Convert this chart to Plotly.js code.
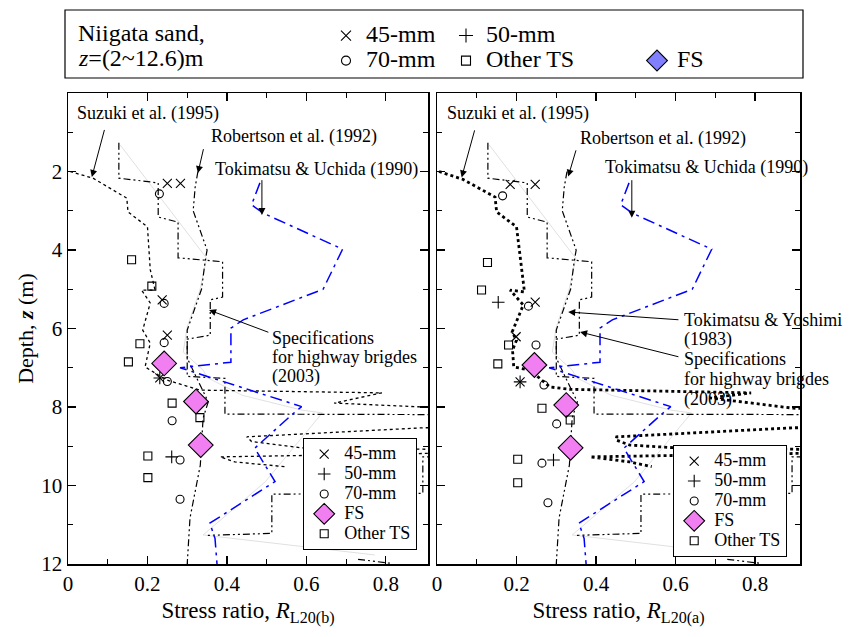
<!DOCTYPE html>
<html><head><meta charset="utf-8">
<script src="https://cdn.plot.ly/plotly-3.0.1.min.js"></script>
<style>html,body{margin:0;padding:0;background:#fff}#chart{width:850px;height:637px}</style>
</head><body><div id="chart"></div>
<script>
// ---------- tick labels ----------
const xTicks = [0, 0.2, 0.4, 0.6, 0.8];
const xTickText = ['0', '0.2', '0.4', '0.6', '0.8'];
const xMinor = [0.1, 0.3, 0.5, 0.7];
const yTicks = [2, 4, 6, 8, 10, 12];
const yMinor = [1, 3, 5, 7, 9, 11];

// ---------- left panel (R_L20(b)) test points ----------
const b45x = [0.25, 0.283, 0.237, 0.25, 0.231];
const b45z = [2.3, 2.3, 5.27, 6.17, 7.26];
const b50x = [0.231, 0.261];
const b50z = [7.26, 9.27];
const b70x = [0.23, 0.242, 0.242, 0.25, 0.262, 0.282, 0.282];
const b70z = [2.57, 5.36, 6.36, 7.35, 8.35, 9.35, 10.35];
const bFSx = [0.242, 0.322, 0.334];
const bFSz = [6.89, 7.86, 8.97];
const bTSx = [0.16, 0.211, 0.181, 0.152, 0.262, 0.332, 0.201, 0.201];
const bTSz = [4.25, 4.92, 6.39, 6.85, 7.9, 8.27, 9.25, 9.8];

// ---------- right panel (R_L20(a)) test points ----------
const a45x = [0.184, 0.247, 0.247, 0.199, 0.209];
const a45z = [2.33, 2.33, 5.33, 6.21, 7.36];
const a50x = [0.154, 0.209, 0.293];
const a50z = [5.33, 7.36, 9.35];
const a70x = [0.165, 0.23, 0.249, 0.269, 0.301, 0.264, 0.279];
const a70z = [2.62, 5.43, 6.42, 7.44, 8.43, 9.43, 10.44];
const aFSx = [0.245, 0.325, 0.336];
const aFSz = [6.93, 7.95, 9.04];
const aTSx = [0.127, 0.112, 0.18, 0.153, 0.264, 0.335, 0.203, 0.203];
const aTSz = [4.32, 5.02, 6.42, 6.9, 8.03, 8.33, 9.33, 9.93];

// ---------- empirical curves ----------
const specX = [0.128, 0.128, 0.227, 0.227, 0.277, 0.277, 0.389, 0.389, 0.358, 0.358, 0.30, 0.30, 0.395, 0.395, 1.2, 1.2, 0.893, 0.893, 0.513, 0.513, 0.352, null, 0.73, 0.81];
const specZ = [1.27, 2.17, 2.29, 3.16, 3.29, 4.2, 4.3, 5.2, 5.27, 6.17, 6.27, 7.22, 7.27, 8.18, 8.2, 9.27, 9.27, 10.2, 10.22, 11.22, 11.27, null, 11.88, 11.98];

const robX = [0.327, 0.32, 0.315, 0.35, 0.345, 0.336, 0.30, 0.30, 0.32, 0.353, 0.34, 0.333, 0.307, 0.30];
const robZ = [2.0, 2.4, 3.0, 4.0, 4.3, 5.0, 6.04, 6.75, 7.18, 7.87, 8.28, 9.48, 10.83, 12.0];

const tuX = [0.483, 0.462, 0.491, 0.691, 0.642, 0.441, 0.41, 0.41, 0.282, 0.588, 0.563, 0.47, 0.521, 0.357, 0.37, 0.375];
const tuZ = [2.29, 2.85, 3.06, 3.98, 5.0, 5.78, 5.99, 6.86, 7.0, 7.99, 8.2, 9.05, 9.9, 10.96, 11.35, 12.0];

const tyX = [0.131, 0.349, 0.332, 0.30, 0.29, 0.34, 0.352, 0.438, 0.589, 0.64, 0.496, 0.34, 0.772];
const tyZ = [1.32, 4.21, 5.02, 5.96, 6.6, 7.06, 7.26, 7.7, 8.08, 8.15, 9.91, 11.26, 11.77];

const suzBX = [0.005, 0.063, 0.148, 0.151, 0.2, 0.207, 0.219, 0.185, 0.207, 0.188, 0.207, 0.194, 0.248, 0.332, 0.79, 0.67, 0.893, 1.1, 1.1, 0.893, 0.45, 0.462, 0.588, 1.1, 1.1, 0.383, 0.42, 0.546];
const suzBZ = [2.0, 2.17, 2.68, 3.03, 3.41, 4.5, 5.02, 5.02, 5.35, 6.04, 6.37, 6.98, 7.31, 7.57, 7.64, 7.9, 8.0, 8.1, 8.5, 8.53, 8.76, 8.88, 9.04, 9.1, 9.15, 9.27, 9.4, 9.52];

const suzAX = [0.005, 0.065, 0.146, 0.15, 0.2, 0.214, 0.22, 0.184, 0.217, 0.189, 0.2, 0.19, 0.193, 0.234, 0.284, 0.335, 0.79, 0.687, 0.895, 1.1, 1.1, 0.895, 0.452, 0.45, 0.485, 0.60, 1.1, 1.1, 0.385, 0.485, 0.54];
const suzAZ = [2.0, 2.2, 2.65, 3.03, 3.41, 4.68, 5.07, 5.02, 5.4, 6.09, 6.3, 6.55, 6.98, 7.06, 7.49, 7.55, 7.64, 7.77, 8.03, 8.1, 8.5, 8.53, 8.76, 8.84, 8.97, 9.04, 9.1, 9.15, 9.27, 9.4, 9.52];

const legNames = ['45-mm', '50-mm', '70-mm', 'FS', 'Other TS'];

// ---------- styling ----------
const F = '"Liberation Serif", "Times New Roman", Times, serif';
const DDD = '7px,3px,2px,3px,2px,3px';
const DD = '12px,5px,3px,5px';
const PINK = '#f27ff2';

function line(x, y, ax, dash, color, width) {
  return {x: x, y: y, xaxis: 'x' + ax, yaxis: 'y' + ax, type: 'scatter', mode: 'lines',
          line: {dash: dash, color: color, width: width}, showlegend: false, hoverinfo: 'skip'};
}
function pts(x, y, ax, name, symbol, size, fill, leg) {
  return {x: x, y: y, xaxis: 'x' + ax, yaxis: 'y' + ax, type: 'scatter', mode: 'markers', name: name,
          legend: leg, cliponaxis: false,
          marker: {symbol: symbol, size: size, color: fill || 'black',
                   line: {color: 'black', width: 1.1}}};
}
function sz(s, px) { return '<span style="font-size:' + px + 'px">' + s + '</span>'; }

const traces = [];
[['', suzBX, suzBZ, 1.3], ['2', suzAX, suzAZ, 2.8]].forEach(function (p) {
  const ax = p[0];
  traces.push(line(tyX, tyZ, ax, 'solid', '#d2d2d2', 0.7));
  traces.push(line(p[1], p[2], ax, 'dot', 'black', p[3]));
  traces.push(line(specX, specZ, ax, DDD, 'black', 1.2));
  traces.push(line(robX, robZ, ax, DDD, 'black', 1.2));
  traces.push(line(tuX, tuZ, ax, DD, '#0000ff', 1.5));
});

// markers (order defines legend order)
traces.push(pts(b45x, b45z, '', sz(legNames[0], 18), 'x-thin-open', 9, null, 'legend2'));
traces.push(pts(b50x, b50z, '', sz(legNames[1], 18), 'cross-thin-open', 9, null, 'legend2'));
traces.push(pts(b70x, b70z, '', sz(legNames[2], 18), 'circle-open', 8, null, 'legend2'));
traces.push(pts(bFSx, bFSz, '', sz(legNames[3], 18), 'diamond', 19, PINK, 'legend2'));
traces.push(pts(bTSx, bTSz, '', sz(legNames[4], 18), 'square-open', 8, null, 'legend2'));

traces.push(pts(a45x, a45z, '2', sz(legNames[0], 18), 'x-thin-open', 9, null, 'legend3'));
traces.push(pts(a50x, a50z, '2', sz(legNames[1], 18), 'cross-thin-open', 9, null, 'legend3'));
traces.push(pts(a70x, a70z, '2', sz(legNames[2], 18), 'circle-open', 8, null, 'legend3'));
traces.push(pts(aFSx, aFSz, '2', sz(legNames[3], 18), 'diamond', 19, PINK, 'legend3'));
traces.push(pts(aTSx, aTSz, '2', sz(legNames[4], 18), 'square-open', 8, null, 'legend3'));

// top legend entries (no data), one legend per column
traces.push(pts([null], [null], '', sz(legNames[0], 24), 'x-thin-open', 10, null, 'legend'));
traces.push(pts([null], [null], '', sz(legNames[2], 24), 'circle-open', 9, null, 'legend'));
traces.push(pts([null], [null], '', sz(legNames[1], 24), 'cross-thin-open', 10, null, 'legend4'));
traces.push(pts([null], [null], '', sz(legNames[4], 24), 'square-open', 9, null, 'legend4'));
traces.push(pts([null], [null], '', sz(legNames[3], 24), 'diamond', 16, '#8080ff', 'legend5'));

function xax(dom, rng, anchor, title) {
  return {domain: dom, range: rng, anchor: anchor, tickmode: 'array', tickvals: xTicks, ticktext: xTickText,
          ticks: 'inside', ticklen: 8, tickwidth: 1.2, tickcolor: 'black',
          minor: {tickmode: 'array', tickvals: xMinor, ticks: 'inside', ticklen: 5, tickwidth: 1, tickcolor: 'black'},
          showline: true, mirror: 'allticks', linecolor: 'black', linewidth: 1.5,
          showgrid: false, zeroline: false, automargin: false,
          tickfont: {family: F, size: 21, color: 'black'},
          title: {text: title, font: {family: F, size: 23, color: 'black'}, standoff: 7}};
}
function yax(anchor, labels) {
  return {domain: [0, 1], range: [12, 0], anchor: anchor, tickmode: 'array', tickvals: yTicks,
          showticklabels: labels,
          ticks: 'inside', ticklen: 8, tickwidth: 1.2, tickcolor: 'black',
          minor: {tickmode: 'array', tickvals: yMinor, ticks: 'inside', ticklen: 5, tickwidth: 1, tickcolor: 'black'},
          showline: true, mirror: 'allticks', linecolor: 'black', linewidth: 1.5,
          showgrid: false, zeroline: false, automargin: false,
          tickfont: {family: F, size: 21, color: 'black'}};
}

const yA = yax('x', true);
yA.title = {text: 'Depth, <b><i>z</i></b> (m)', font: {family: F, size: 22, color: 'black'}, standoff: 1};

function txt(x, y, ax, s) {
  return {x: x, y: y, xref: 'x' + ax, yref: 'y' + ax, text: s, showarrow: false,
          xanchor: 'left', yanchor: 'middle', font: {family: F, size: 18, color: 'black'}};
}
function arr(x, y, tx, ty, ax) {
  return {x: x, y: y, xref: 'x' + ax, yref: 'y' + ax, ax: tx, ay: ty, axref: 'x' + ax, ayref: 'y' + ax,
          showarrow: true, arrowhead: 2, arrowsize: 1.4, arrowwidth: 1, arrowcolor: 'black',
          standoff: 0, font: {size: 1}};
}

const annotations = [
  txt(0.018, 0.51, '', 'Suzuki et al. (1995)'),
  arr(0.06, 2.14, 0.093, 0.89, ''),
  txt(0.355, 1.12, '', 'Robertson et al. (1992)'),
  arr(0.327, 2.04, 0.342, 1.38, ''),
  txt(0.365, 1.96, '', 'Tokimatsu &amp; Uchida (1990)'),
  arr(0.488, 3.11, 0.488, 2.17, ''),
  txt(0.508, 6.25, '', 'Specifications'),
  txt(0.508, 6.73, '', 'for highway brigdes'),
  txt(0.508, 7.22, '', '(2003)'),
  arr(0.355, 5.53, 0.508, 6.11, ''),

  txt(0.02, 0.51, '2', 'Suzuki et al. (1995)'),
  arr(0.062, 2.15, 0.096, 0.9, '2'),
  txt(0.355, 1.17, '2', 'Robertson et al. (1992)'),
  arr(0.33, 2.13, 0.351, 1.41, '2'),
  txt(0.418, 1.89, '2', 'Tokimatsu &amp; Uchida (1990)'),
  arr(0.49, 3.18, 0.49, 2.17, '2'),
  txt(0.616, 5.78, '2', 'Tokimatsu &amp; Yoshimi'),
  txt(0.616, 6.28, '2', '(1983)'),
  arr(0.33, 5.58, 0.611, 5.78, '2'),
  txt(0.616, 6.78, '2', 'Specifications'),
  txt(0.616, 7.28, '2', 'for highway brigdes'),
  txt(0.616, 7.80, '2', '(2003)'),
  arr(0.36, 6.09, 0.611, 6.73, '2'),

  {x: 0.011, y: 1.127, xref: 'paper', yref: 'paper', text: 'Niigata sand,', showarrow: false,
   xanchor: 'left', yanchor: 'middle', font: {family: F, size: 24, color: 'black'}},
  {x: 0.011, y: 1.0743, xref: 'paper', yref: 'paper', text: '<i>z</i>=(2~12.6)m', showarrow: false,
   xanchor: 'left', yanchor: 'middle', font: {family: F, size: 24, color: 'black'}}
];

const topLeg = function (xpx, ypx) {
  return {x: (xpx - 68) / 732, y: (564 - ypx) / 471, xref: 'paper', yref: 'paper',
          xanchor: 'left', yanchor: 'top', orientation: 'v',
          bgcolor: 'rgba(0,0,0,0)', borderwidth: 0,
          font: {family: F, size: 17, color: 'black'}};
};
const inLeg = function (xpx, ypx) {
  return {x: (xpx - 68) / 732, y: (564 - ypx) / 471, xref: 'paper', yref: 'paper',
          xanchor: 'left', yanchor: 'top',
          bgcolor: 'white', bordercolor: 'black', borderwidth: 1.2,
          font: {family: F, size: 13, color: 'black'}};
};

const layout = {
  width: 850, height: 637,
  margin: {l: 68, r: 50, t: 93, b: 73},
  paper_bgcolor: 'white', plot_bgcolor: 'white',
  font: {family: F, size: 21, color: 'black'},
  showlegend: true, hovermode: false,
  xaxis: xax([0, 360 / 732], [0, 0.906], 'y', 'Stress ratio, <i>R</i><sub>L20(b)</sub>'),
  xaxis2: xax([369 / 732, 1], [0, 0.913], 'y2', 'Stress ratio, <i>R</i><sub>L20(a)</sub>'),
  yaxis: yA,
  yaxis2: yax('x2', false),
  legend: topLeg(326, 18),
  legend4: topLeg(446, 18),
  legend5: topLeg(637, 43),
  legend2: inLeg(303, 438),
  legend3: inLeg(673, 445),
  shapes: [{type: 'rect', xref: 'paper', yref: 'paper', x0: (65 - 68) / 732, x1: (803 - 68) / 732,
            y0: (564 - 78) / 471, y1: (564 - 10) / 471, line: {color: 'black', width: 1.2}}],
  annotations: annotations
};

Plotly.newPlot('chart', traces, layout, {staticPlot: true, displayModeBar: false});
</script></body></html>
